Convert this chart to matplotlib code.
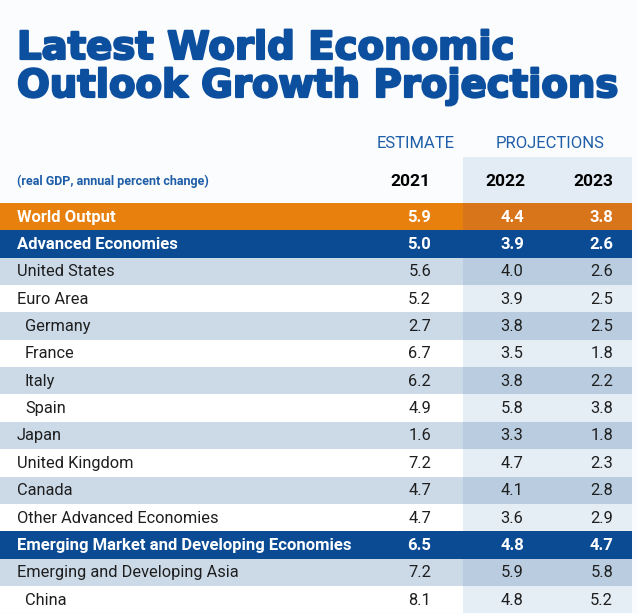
import matplotlib
matplotlib.use('Agg')
import matplotlib.pyplot as plt
import matplotlib.patheffects as pe
from matplotlib.patches import Rectangle

# table data
regions = [
    'World Output', 'Advanced Economies', 'United States', 'Euro Area',
    'Germany', 'France', 'Italy', 'Spain', 'Japan', 'United Kingdom',
    'Canada', 'Other Advanced Economies',
    'Emerging Market and Developing Economies',
    'Emerging and Developing Asia', 'China',
]
# 'world', 'group', 'country' or 'sub' (indented)
kinds = [
    'world', 'group', 'country', 'country',
    'sub', 'sub', 'sub', 'sub', 'country', 'country',
    'country', 'country',
    'group',
    'country', 'sub',
]
years = ['2021', '2022', '2023']
g2021 = [5.9, 5.0, 5.6, 5.2, 2.7, 6.7, 6.2, 4.9, 1.6, 7.2, 4.7, 4.7, 6.5, 7.2, 8.1]
g2022 = [4.4, 3.9, 4.0, 3.9, 3.8, 3.5, 3.8, 5.8, 3.3, 4.7, 4.1, 3.6, 4.8, 5.9, 4.8]
g2023 = [3.8, 2.6, 2.6, 2.5, 2.5, 1.8, 2.2, 3.8, 1.8, 2.3, 2.8, 2.9, 4.7, 5.8, 5.2]

BLUE = '#0B4B94'
TITLE_BLUE = '#0C4F9E'
ORANGE = '#E8800E'
ORANGE_DK = '#D8741A'
LIGHT = '#CCDAE8'
LIGHT_DK = '#BACDE0'
WHITE_DK = '#E5EDF5'
TEXT = '#1E1E1E'

W, H, dpi = 638, 614, 100
fig = plt.figure(figsize=(W / dpi, H / dpi), dpi=dpi)
ax = fig.add_axes([0, 0, 1, 1])
ax.set_xlim(0, W)
ax.set_ylim(H, 0)
ax.axis('off')
fig.patch.set_facecolor('#FBFCFD')

font = 'Roboto'

# title, heavy rounded look
thick = [pe.withStroke(linewidth=1.6, foreground=TITLE_BLUE)]
ax.text(17, 59, 'Latest World Economic', fontsize=27.8, fontweight='bold',
        family='DejaVu Sans', color=TITLE_BLUE, va='baseline',
        path_effects=thick)
ax.text(17, 97, 'Outlook Growth Projections', fontsize=27.8, fontweight='bold',
        family='DejaVu Sans', color=TITLE_BLUE, va='baseline',
        path_effects=thick)

# column geometry
left, right = 0, 632
proj_x = 463
top = 203
rh = 27.35
col_x = [431, 512, 613]
col_ha = ['right', 'center', 'right']
year_x = [430, 505, 613]

# header
ax.add_patch(Rectangle((proj_x, 157), right - proj_x, top - 157,
                       facecolor='#E3ECF4', edgecolor='none'))
ax.text(416, 143, 'ESTIMATE', fontsize=12, family=font, color='#1F5EA8',
        ha='center', va='center')
ax.text(550, 143, 'PROJECTIONS', fontsize=12, family=font, color='#1F5EA8',
        ha='center', va='center')
ax.text(17, 181, '(real GDP, annual percent change)', fontsize=9,
        fontweight='bold', family=font, color='#1F5EA8', va='center')
for x, ha, yr in zip(year_x, col_ha, years):
    ax.text(x, 182, yr, fontsize=12.5, fontweight='bold', family=font,
            color='black', ha=ha, va='center')

# rows
shade = 0
for i, (name, kind) in enumerate(zip(regions, kinds)):
    y0 = top + i * rh
    if kind == 'world':
        c1, c2, tc, fw = ORANGE, ORANGE_DK, 'white', 'bold'
        shade = 0
    elif kind == 'group':
        c1, c2, tc, fw = BLUE, BLUE, 'white', 'bold'
        shade = 0
    else:
        if shade % 2 == 0:
            c1, c2 = LIGHT, LIGHT_DK
        else:
            c1, c2 = 'white', WHITE_DK
        tc, fw = TEXT, 'normal'
        shade += 1
    ax.add_patch(Rectangle((left, y0), proj_x - left, rh, facecolor=c1,
                           edgecolor='none'))
    ax.add_patch(Rectangle((proj_x, y0), right - proj_x, rh, facecolor=c2,
                           edgecolor='none'))
    tx = 25 if kind == 'sub' else 17
    fs = 12 if fw == 'bold' else 11.8
    ym = y0 + rh / 2 + 0.5
    ax.text(tx, ym, name, fontsize=fs, fontweight=fw, family=font,
            color=tc, va='center')
    for x, ha, v in zip(col_x, col_ha, (g2021[i], g2022[i], g2023[i])):
        ax.text(x, ym, f'{v:.1f}', fontsize=fs, fontweight=fw, family=font,
                color=tc, ha=ha, va='center')

fig.savefig('out.png', dpi=dpi, facecolor=fig.get_facecolor())
